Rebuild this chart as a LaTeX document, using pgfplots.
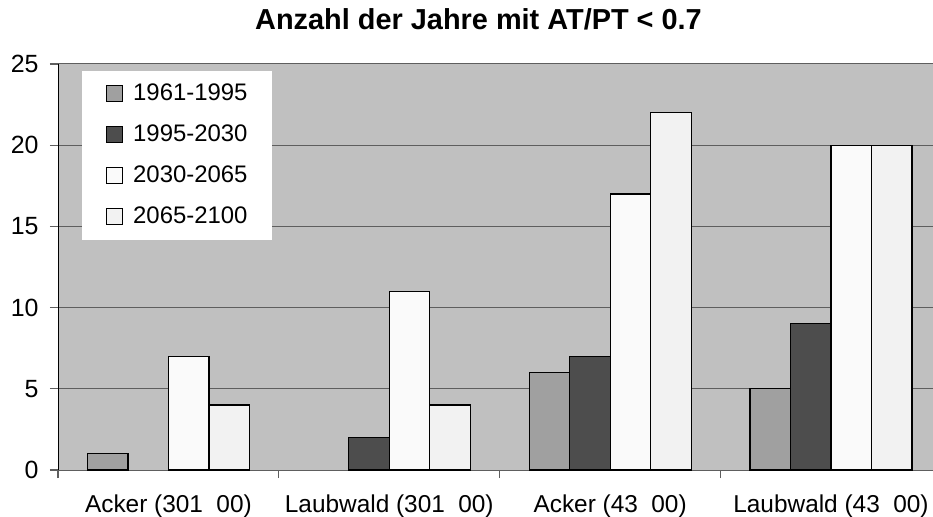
\documentclass[border=0pt]{standalone}
\usepackage{fontspec}
\setmainfont{Liberation Sans}
\usepackage{pgfplots}
\pgfplotsset{compat=1.18}
\definecolor{bgc}{HTML}{C0C0C0}
\definecolor{gridc}{HTML}{5E5E5E}
\definecolor{ca}{HTML}{A0A0A0}
\definecolor{cb}{HTML}{4D4D4D}
\definecolor{cc}{HTML}{FAFAFA}
\definecolor{cd}{HTML}{F2F2F2}
\pgfplotsset{sq legend/.style={legend image code/.code={\draw[fill=#1,draw=black,line width=1bp] (0bp,-8bp) rectangle (16bp,8bp);}}}
\begin{document}
\begin{tikzpicture}
\begin{axis}[
  scale only axis, width=875bp, height=406bp,
  xmin=-0.5, xmax=3.462, ymin=0, ymax=25,
  axis background/.style={fill=bgc},
  axis x line=bottom, axis y line=left, axis line style={-},
  x axis line style={draw=gridc, line width=1bp},
  y axis line style={draw=black, line width=1bp},
  ytick={0,5,10,15,20,25},
  ymajorgrids, grid style={draw=gridc, line width=1bp},
  tick align=outside, major tick length=8bp,
  tick style={draw=gridc, line width=1.2bp},
  xtick={-0.5,0.5,1.5,2.5}, xticklabels={},
  extra x ticks={0,1,2,3},
  extra x tick labels={Acker (301\hspace{0.55em}00),Laubwald (301\hspace{0.55em}00),Acker (43\hspace{0.55em}00),Laubwald (43\hspace{0.55em}00)},
  extra x tick style={major tick length=0pt, grid=none,
     xticklabel style={font=\fontsize{24.5}{28}\selectfont, anchor=base, yshift=-42bp}},
  yticklabel style={font=\fontsize{25}{29}\selectfont, xshift=-8bp},
  /pgf/number format/assume math mode=true,
  title={\bfseries Anzahl der Jahre mit AT/PT < 0.7},
  title style={font=\fontsize{29}{32}\selectfont, at={(0.5,1)}, anchor=base, yshift=29bp, xshift=-17bp},
  ybar=0pt, bar width=40.5bp,
  legend style={at={(0.0274,0.983)}, anchor=north west, draw=none, fill=white,
    inner xsep=24bp, inner ysep=12bp, row sep=19.5bp, column sep=10bp,
    font=\fontsize{24}{28}\selectfont,
    nodes={inner sep=0pt, text height=17bp, text depth=4.5bp}},
  legend cell align=left,
  clip=false,
]
\addplot[fill=ca, draw=black, line width=1.2bp, bar shift=-60.75bp, sq legend=ca] coordinates {(0,1) (2,6) (3,5)};
\addplot[fill=cb, draw=black, line width=1.2bp, bar shift=-20.25bp, sq legend=cb] coordinates {(1,2) (2,7) (3,9)};
\addplot[fill=cc, draw=black, line width=1.2bp, bar shift=20.25bp, sq legend=cc] coordinates {(0,7) (1,11) (2,17) (3,20)};
\addplot[fill=cd, draw=black, line width=1.2bp, bar shift=60.75bp, sq legend=cd] coordinates {(0,4) (1,4) (2,22) (3,20)};
\legend{1961-1995,1995-2030,2030-2065,2065-2100}
\coordinate (bl) at (rel axis cs:0,0);
\coordinate (tr) at (rel axis cs:1,1);
\end{axis}
\pgfresetboundingbox
\path[use as bounding box] ([shift={(-58bp,-47bp)}]bl) rectangle ([shift={(0bp,64bp)}]tr);
\end{tikzpicture}
\end{document}
